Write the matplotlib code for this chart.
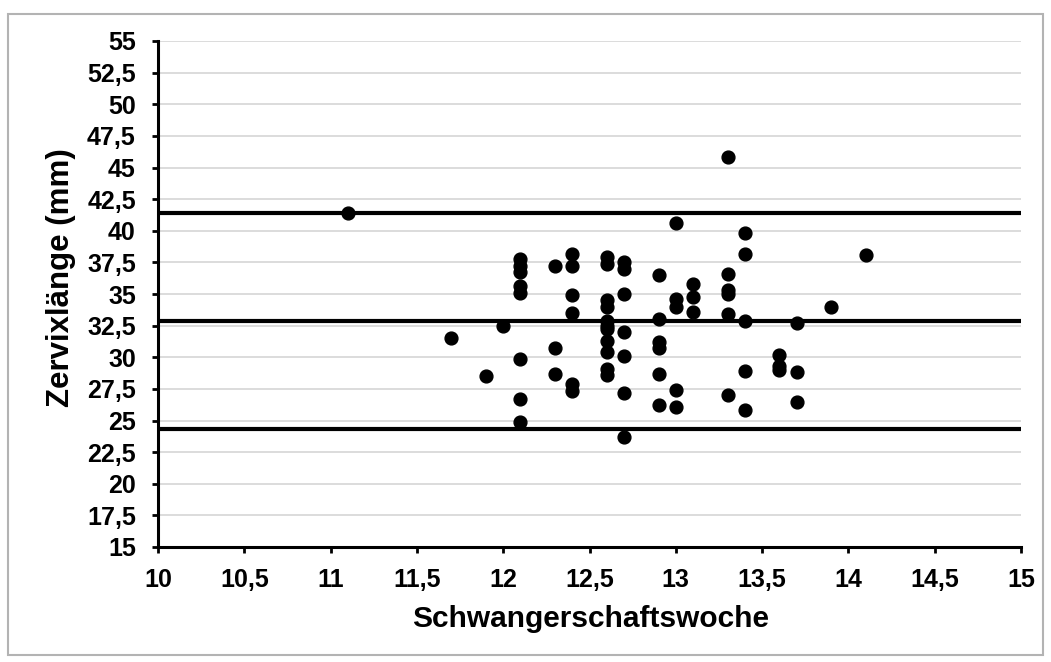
import numpy as np
import matplotlib
matplotlib.use("Agg")
import matplotlib.pyplot as plt
from matplotlib.patches import Rectangle

# Schwangerschaftswoche (x) vs Zervixlaenge in mm (y)
weeks = [11.1, 11.7, 11.9, 12.0,
         12.1, 12.1, 12.1, 12.1, 12.1, 12.1, 12.1, 12.1,
         12.3, 12.3, 12.3,
         12.4, 12.4, 12.4, 12.4, 12.4, 12.4,
         12.6, 12.6, 12.6, 12.6, 12.6, 12.6, 12.6, 12.6, 12.6, 12.6, 12.6,
         12.7, 12.7, 12.7, 12.7, 12.7, 12.7, 12.7,
         12.9, 12.9, 12.9, 12.9, 12.9, 12.9,
         13.0, 13.0, 13.0, 13.0, 13.0,
         13.1, 13.1, 13.1,
         13.3, 13.3, 13.3, 13.3, 13.3, 13.3,
         13.4, 13.4, 13.4, 13.4, 13.4,
         13.6, 13.6, 13.6,
         13.7, 13.7, 13.7,
         13.9, 14.1]
length = [41.4, 31.5, 28.5, 32.5,
          37.8, 37.2, 36.7, 35.6, 35.1, 29.9, 26.7, 24.9,
          37.2, 30.7, 28.7,
          38.2, 37.2, 34.9, 33.5, 27.9, 27.3,
          37.9, 37.4, 34.5, 34.0, 32.9, 32.5, 32.2, 31.3, 30.4, 29.1, 28.6,
          37.5, 37.0, 35.0, 32.0, 30.1, 27.2, 23.7,
          36.5, 33.0, 31.2, 30.7, 28.7, 26.2,
          40.6, 34.6, 34.0, 27.4, 26.1,
          35.8, 34.8, 33.6,
          45.8, 36.6, 35.3, 35.0, 33.4, 27.0,
          39.8, 38.2, 32.9, 28.9, 25.8,
          30.2, 29.3, 29.0,
          32.7, 28.8, 26.5,
          34.0, 38.1]

# Mittelwert und Grenzen
ref_lines = [41.4, 32.85, 24.3]

xticks = np.arange(10, 15.01, 0.5)
yticks = np.arange(15, 55.01, 2.5)

plt.rcParams['font.family'] = ['Liberation Sans', 'DejaVu Sans']
plt.rcParams['font.weight'] = 'bold'

fig = plt.figure(figsize=(10.51, 6.62), dpi=100)
ax = fig.add_axes([158 / 1051, 1 - 547 / 662, 863 / 1051, 506 / 662])

ax.set_xlim(10, 15)
ax.set_ylim(15, 55)
ax.set_yticks(yticks)
ax.set_xticks(xticks)
ax.set_yticklabels([("%g" % v).replace(".", ",") for v in yticks])
ax.set_xticklabels([("%g" % v).replace(".", ",") for v in xticks])

ax.yaxis.grid(True, color="#d9d9d9", linewidth=1.3)
ax.set_axisbelow(True)

for v in ref_lines:
    ax.axhline(v, color="black", linewidth=3, zorder=2)

ax.scatter(weeks, length, s=85, color="black", zorder=3, clip_on=False)

for s in ["top", "right"]:
    ax.spines[s].set_visible(False)
for s in ["left", "bottom"]:
    ax.spines[s].set_linewidth(2.2)
    ax.spines[s].set_color("black")

ax.tick_params(axis="both", direction="out", length=4, width=2, labelsize=18, colors="black")
ax.tick_params(axis="y", pad=12)
ax.tick_params(axis="x", pad=11)

fig.text(591 / 1051, 1 - 619 / 662, "Schwangerschaftswoche", fontsize=21.5,
         fontweight="bold", ha="center", va="center")
fig.text(61 / 1051, 1 - 278 / 662, "Zervixlänge (mm)", fontsize=22.5,
         fontweight="bold", ha="center", va="center", rotation=90)

# grauer Rahmen wie im Excel-Diagramm
fig.patches.append(Rectangle((8 / 1051, 7 / 662), 1035 / 1051, 641 / 662,
                             transform=fig.transFigure, fill=False,
                             edgecolor="#b3b3b3", linewidth=1.5))

fig.savefig("out.png", dpi=100)
